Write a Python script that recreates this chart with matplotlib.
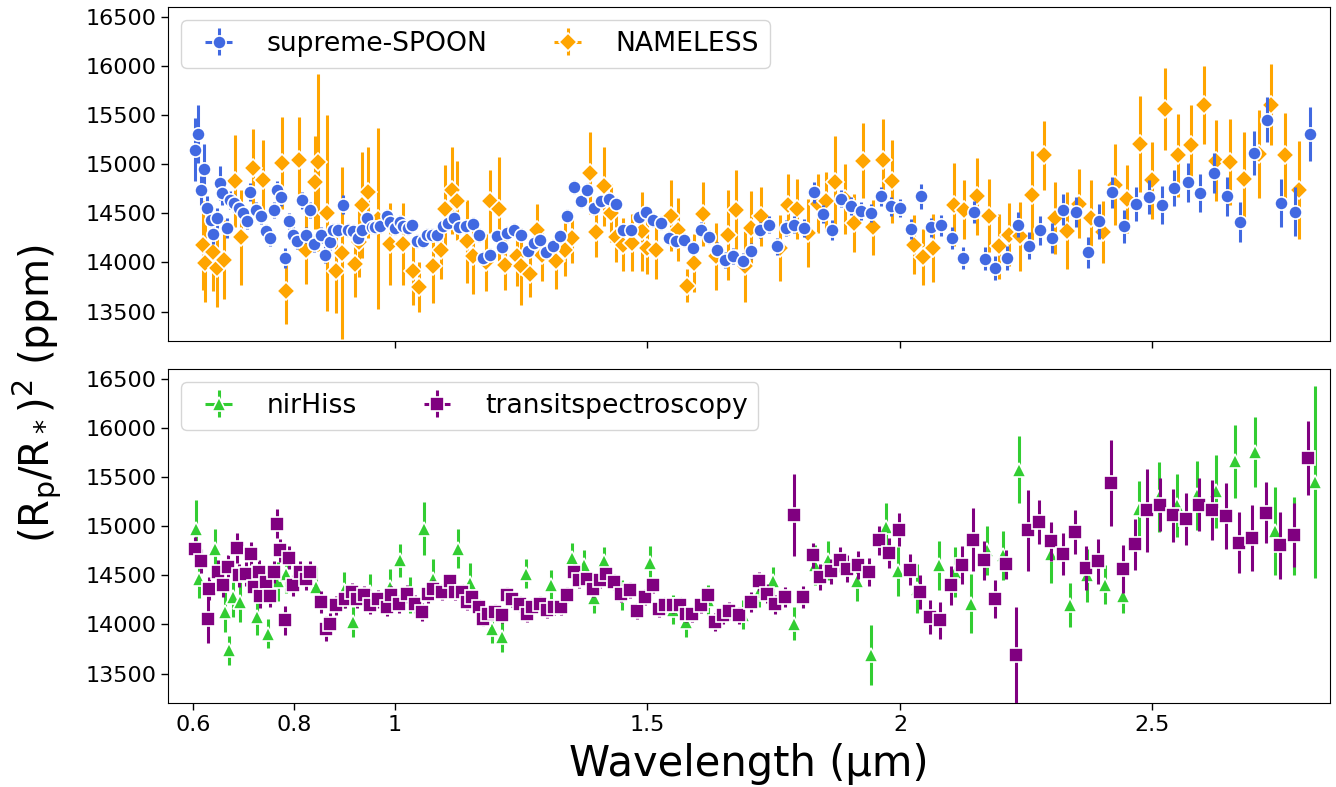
import matplotlib
matplotlib.use("Agg")
import matplotlib.pyplot as plt

# ---------------- data ----------------
spoon_wl = [0.603, 0.609, 0.616, 0.621, 0.628, 0.636, 0.639, 0.647, 0.654, 0.658, 0.667, 0.674, 0.682, 0.692,
            0.699, 0.707, 0.713, 0.725, 0.735, 0.744, 0.752, 0.760, 0.766, 0.775, 0.783, 0.790, 0.798, 0.805,
            0.815, 0.823, 0.831, 0.839, 0.854, 0.862, 0.872, 0.877, 0.887, 0.897, 0.906, 0.916, 0.927, 0.934,
            0.945, 0.954, 0.960, 0.970, 0.984, 0.990, 1.000, 1.009, 1.016, 1.025, 1.034, 1.043, 1.055, 1.063,
            1.073, 1.083, 1.095, 1.104, 1.116, 1.126, 1.141, 1.154, 1.166, 1.175, 1.189, 1.202, 1.212, 1.222,
            1.236, 1.250, 1.263, 1.275, 1.288, 1.300, 1.313, 1.326, 1.341, 1.354, 1.368, 1.381, 1.395, 1.407,
            1.424, 1.437, 1.452, 1.467, 1.483, 1.497, 1.510, 1.527, 1.542, 1.556, 1.573, 1.591, 1.606, 1.621,
            1.638, 1.654, 1.670, 1.689, 1.705, 1.722, 1.740, 1.757, 1.774, 1.791, 1.810, 1.829, 1.848, 1.866,
            1.884, 1.903, 1.922, 1.942, 1.962, 1.982, 2.001, 2.021, 2.041, 2.061, 2.081, 2.103, 2.125, 2.147,
            2.168, 2.189, 2.211, 2.233, 2.255, 2.278, 2.301, 2.323, 2.348, 2.372, 2.395, 2.419, 2.444, 2.468,
            2.494, 2.519, 2.543, 2.570, 2.595, 2.621, 2.648, 2.674, 2.701, 2.727, 2.755, 2.783, 2.811]
spoon_val = [15147, 15307, 14733, 14954, 14554, 14435, 14289, 14452, 14808, 14706, 14351, 14638, 14605, 14554,
             14503, 14425, 14716, 14530, 14469, 14316, 14249, 14530, 14740, 14666, 14045, 14418, 14282, 14214,
             14631, 14282, 14537, 14188, 14282, 14079, 14204, 14333, 14333, 14588, 14333, 14316, 14249, 14333,
             14452, 14357, 14357, 14367, 14476, 14408, 14350, 14408, 14374, 14350, 14377, 14221, 14221, 14282,
             14282, 14282, 14374, 14401, 14452, 14357, 14367, 14394, 14282, 14045, 14079, 14265, 14157, 14300,
             14333, 14282, 14113, 14198, 14231, 14106, 14164, 14265, 14476, 14764, 14628, 14740, 14554, 14621,
             14645, 14594, 14333, 14333, 14458, 14509, 14435, 14401, 14249, 14214, 14225, 14147, 14333, 14259,
             14130, 14028, 14062, 14018, 14113, 14333, 14384, 14164, 14350, 14384, 14350, 14713, 14493, 14333,
             14649, 14577, 14520, 14503, 14672, 14570, 14554, 14343, 14672, 14357, 14377, 14249, 14045, 14513,
             14038, 13944, 14045, 14384, 14170, 14326, 14249, 14537, 14513, 14102, 14418, 14713, 14367, 14594,
             14666, 14581, 14757, 14814, 14706, 14910, 14672, 14411, 15113, 15452, 14604, 14516, 15310]
spoon_err = [320, 300, 150, 250, 120, 110, 100, 100, 170, 120, 100, 90, 90, 80,
             80, 80, 90, 80, 80, 80, 80, 80, 90, 90, 100, 80, 80, 80,
             90, 80, 80, 80, 80, 90, 80, 70, 70, 100, 70, 70, 70, 70,
             70, 70, 70, 70, 70, 70, 70, 70, 70, 70, 70, 70, 70, 70,
             70, 70, 70, 70, 70, 70, 70, 70, 70, 70, 70, 70, 70, 70,
             70, 70, 70, 70, 70, 70, 70, 70, 70, 70, 70, 70, 70, 70,
             70, 70, 70, 70, 70, 70, 70, 70, 70, 70, 70, 75, 75, 75,
             75, 80, 80, 80, 80, 80, 85, 85, 85, 85, 90, 110, 90, 100,
             90, 90, 90, 95, 95, 95, 95, 100, 125, 100, 105, 110, 115, 115,
             120, 120, 125, 130, 135, 150, 150, 160, 150, 155, 175, 160, 170, 175,
             175, 195, 185, 200, 195, 205, 200, 205, 220, 230, 245, 250, 275]

nameless_wl = [0.619, 0.624, 0.639, 0.647, 0.661, 0.684, 0.695, 0.718, 0.738, 0.776, 0.785, 0.810, 0.823,
               0.841, 0.848, 0.866, 0.884, 0.896, 0.921, 0.929, 0.934, 0.947, 0.967, 0.990, 1.015, 1.036,
               1.048, 1.076, 1.091, 1.099, 1.113, 1.123, 1.142, 1.154, 1.180, 1.189, 1.205, 1.217, 1.242,
               1.250, 1.267, 1.282, 1.291, 1.318, 1.336, 1.350, 1.386, 1.399, 1.414, 1.427, 1.437, 1.452,
               1.470, 1.489, 1.499, 1.517, 1.546, 1.560, 1.578, 1.593, 1.609, 1.636, 1.659, 1.676, 1.693,
               1.705, 1.724, 1.762, 1.778, 1.797, 1.817, 1.838, 1.854, 1.871, 1.891, 1.909, 1.927, 1.947,
               1.967, 1.985, 2.027, 2.045, 2.066, 2.106, 2.126, 2.152, 2.176, 2.196, 2.215, 2.238, 2.262,
               2.285, 2.307, 2.331, 2.354, 2.378, 2.402, 2.426, 2.449, 2.475, 2.500, 2.525, 2.550, 2.576,
               2.602, 2.626, 2.654, 2.681, 2.711, 2.735, 2.763, 2.790]
nameless_val = [14174, 13994, 14106, 13944, 14028, 14832, 14255, 14961, 14842, 15012, 13713, 15045, 14130,
                14814, 15018, 14503, 13909, 14096, 13984, 14204, 14581, 14713, 14445, 14188, 14188, 13909,
                13750, 13960, 14130, 14544, 14733, 14628, 14214, 14062, 14000, 14621, 14544, 13977, 14062,
                13960, 13885, 14333, 14079, 14018, 14130, 14249, 14910, 14310, 14774, 14503, 14255, 14181,
                14198, 14316, 14147, 14123, 14476, 14333, 13764, 13994, 14493, 14062, 14282, 14537, 13960,
                14350, 14469, 14147, 14588, 14544, 14300, 14598, 14621, 14814, 14645, 14401, 15035, 14357,
                15045, 14825, 14181, 14055, 14147, 14588, 14537, 14672, 14476, 14164, 14282, 14265, 14682,
                15089, 14452, 14323, 14598, 14452, 14310, 14791, 14645, 15208, 14835, 15561, 15089, 15191,
                15602, 15035, 15022, 14852, 15103, 15605, 15089, 14740]
nameless_err = [450, 400, 400, 400, 400, 470, 480, 400, 400, 470, 340, 440, 350,
                470, 900, 1000, 420, 880, 340, 350, 540, 460, 920, 420, 420, 340,
                250, 370, 300, 450, 440, 400, 420, 380, 290, 320, 530, 260, 300,
                390, 240, 260, 270, 290, 270, 250, 420, 250, 400, 300, 250, 270,
                290, 400, 270, 290, 360, 320, 170, 300, 330, 340, 460, 400, 360,
                380, 300, 340, 310, 310, 350, 300, 300, 470, 360, 300, 380, 280,
                410, 420, 300, 290, 350, 420, 300, 390, 370, 330, 320, 350, 450,
                350, 370, 390, 350, 390, 320, 410, 350, 490, 390, 420, 420, 410,
                400, 410, 440, 480, 450, 410, 430, 500]

nirhiss_wl = [0.605, 0.611, 0.644, 0.664, 0.672, 0.680, 0.694, 0.726, 0.748, 0.768, 0.785, 0.844, 0.900,
              0.916, 0.950, 0.990, 1.009, 1.030, 1.058, 1.076, 1.125, 1.148, 1.192, 1.212, 1.260, 1.309,
              1.351, 1.374, 1.394, 1.414, 1.450, 1.505, 1.550, 1.576, 1.620, 1.690, 1.720, 1.748, 1.790,
              1.831, 1.858, 1.914, 1.942, 1.972, 1.997, 2.033, 2.077, 2.109, 2.140, 2.172, 2.204, 2.235,
              2.300, 2.337, 2.371, 2.405, 2.442, 2.474, 2.513, 2.548, 2.588, 2.626, 2.664, 2.702, 2.742,
              2.780, 2.821]
nirhiss_val = [14974, 14465, 14770, 14126, 13736, 14279, 14228, 14075, 13906, 14438, 14516, 14381, 14350,
               14024, 14330, 14380, 14652, 14300, 14974, 14465, 14770, 14425, 13957, 13872, 14516, 14404,
               14675, 14604, 14269, 14641, 14300, 14628, 14150, 14024, 14250, 14100, 14330, 14438, 14008,
               14604, 14652, 14438, 13692, 14991, 14540, 14364, 14604, 14533, 14211, 14753, 14703, 15575,
               14720, 14194, 14499, 14404, 14286, 15177, 15296, 15211, 15313, 15354, 15659, 15754, 14949,
               14900, 15449]
nirhiss_err = [290, 200, 200, 200, 150, 200, 200, 180, 150, 200, 200, 200, 180,
               150, 180, 180, 170, 180, 270, 200, 200, 200, 150, 150, 150, 150,
               150, 150, 150, 150, 150, 170, 150, 150, 150, 150, 150, 150, 170,
               200, 200, 200, 305, 250, 250, 250, 250, 250, 300, 250, 250, 340,
               295, 225, 270, 200, 170, 280, 360, 320, 355, 370, 370, 355, 450,
               400, 975]

ts_wl = [0.603, 0.616, 0.629, 0.632, 0.649, 0.659, 0.669, 0.687, 0.692, 0.704, 0.715, 0.720, 0.730, 0.732,
         0.745, 0.752, 0.760, 0.767, 0.773, 0.783, 0.790, 0.798, 0.811, 0.823, 0.831, 0.854, 0.864, 0.872,
         0.884, 0.901, 0.914, 0.924, 0.938, 0.950, 0.967, 0.984, 0.993, 1.007, 1.023, 1.040, 1.053, 1.066,
         1.076, 1.093, 1.108, 1.119, 1.133, 1.142, 1.152, 1.166, 1.175, 1.185, 1.199, 1.212, 1.222, 1.232,
         1.248, 1.262, 1.272, 1.287, 1.301, 1.315, 1.328, 1.340, 1.354, 1.364, 1.381, 1.393, 1.406, 1.417,
         1.433, 1.448, 1.466, 1.480, 1.495, 1.510, 1.523, 1.534, 1.550, 1.565, 1.576, 1.589, 1.605, 1.619,
         1.634, 1.649, 1.662, 1.682, 1.704, 1.721, 1.737, 1.753, 1.773, 1.790, 1.808, 1.827, 1.841, 1.863,
         1.881, 1.896, 1.917, 1.939, 1.959, 1.979, 1.999, 2.019, 2.040, 2.060, 2.079, 2.101, 2.123, 2.144,
         2.166, 2.188, 2.209, 2.230, 2.254, 2.276, 2.299, 2.323, 2.347, 2.369, 2.393, 2.417, 2.442, 2.466,
         2.490, 2.515, 2.541, 2.566, 2.592, 2.618, 2.645, 2.671, 2.697, 2.725, 2.752, 2.780, 2.808]
ts_val = [14763, 14645, 14059, 14364, 14533, 14397, 14584, 14777, 14499, 14516, 14720, 14381, 14533, 14289,
          14431, 14289, 14533, 15025, 14753, 14041, 14679, 14397, 14533, 14465, 14533, 14228, 13957, 14008,
          14194, 14262, 14330, 14262, 14303, 14194, 14262, 14177, 14296, 14211, 14313, 14211, 14126, 14313,
          14364, 14330, 14438, 14330, 14330, 14228, 14279, 14177, 14059, 14109, 14126, 14092, 14296, 14262,
          14211, 14109, 14177, 14211, 14143, 14177, 14177, 14296, 14533, 14448, 14465, 14364, 14448, 14516,
          14431, 14313, 14347, 14133, 14279, 14397, 14160, 14201, 14194, 14201, 14109, 14109, 14201, 14303,
          14024, 14092, 14136, 14092, 14228, 14438, 14313, 14204, 14279, 15116, 14279, 14703, 14482, 14540,
          14659, 14567, 14604, 14533, 14855, 14727, 14964, 14557, 14330, 14075, 14041, 14397, 14604, 14862,
          14652, 14262, 14611, 13685, 14957, 15042, 14845, 14713, 14940, 14574, 14641, 15442, 14560, 14814,
          15160, 15218, 15109, 15069, 15218, 15160, 15103, 14832, 14883, 15137, 14804, 14913, 15693]
ts_err = [130, 120, 250, 120, 120, 120, 120, 150, 120, 120, 120, 120, 120, 120,
          110, 110, 110, 150, 120, 150, 120, 110, 110, 110, 110, 110, 130, 110,
          100, 100, 90, 90, 90, 90, 90, 90, 90, 90, 90, 90, 90, 90,
          90, 80, 80, 80, 80, 80, 80, 80, 80, 80, 80, 80, 80, 80,
          80, 80, 80, 80, 80, 80, 80, 80, 80, 80, 80, 80, 80, 80,
          80, 80, 80, 80, 80, 80, 80, 80, 80, 80, 80, 80, 80, 80,
          90, 90, 90, 90, 100, 100, 100, 100, 100, 420, 110, 130, 130, 130,
          130, 140, 140, 140, 150, 150, 170, 160, 170, 175, 185, 195, 195, 320,
          195, 195, 150, 490, 410, 220, 195, 215, 220, 225, 225, 440, 245, 260,
          420, 270, 265, 265, 270, 305, 340, 310, 335, 310, 345, 325, 380]

xticks = [0.6, 0.8, 1, 1.5, 2, 2.5]
xticklabels = ["0.6", "0.8", "1", "1.5", "2", "2.5"]
yticks = [13500, 14000, 14500, 15000, 15500, 16000, 16500]

# ---------------- figure ----------------
W, H = 1336, 787
fig = plt.figure(figsize=(W / 100, H / 100), dpi=100)
ax1 = fig.add_axes([168 / W, 1 - 341 / H, 1162 / W, 334 / H])
ax2 = fig.add_axes([168 / W, 1 - 703 / H, 1162 / W, 334 / H])

eb_kw = dict(ls="none", elinewidth=2.2, mec="white", mew=1.2, xerr=0.003)

ax1.errorbar(spoon_wl, spoon_val, yerr=spoon_err, fmt="o", color="royalblue", ms=9.5,
             label="supreme-SPOON", zorder=4, **eb_kw)
ax1.errorbar(nameless_wl, nameless_val, yerr=nameless_err, fmt="D", color="orange", ms=9.5,
             label="NAMELESS", zorder=3, **eb_kw)

ax2.errorbar(nirhiss_wl, nirhiss_val, yerr=nirhiss_err, fmt="^", color="limegreen", ms=10,
             label="nirHiss", zorder=3, **eb_kw)
ax2.errorbar(ts_wl, ts_val, yerr=ts_err, fmt="s", color="purple", ms=9.5,
             label="transitspectroscopy", zorder=4, **eb_kw)

for ax in (ax1, ax2):
    ax.set_xlim(0.5505, 2.8515)
    ax.set_ylim(13200, 16600)
    ax.set_yticks(yticks)
    ax.tick_params(axis="both", labelsize=16, length=5, width=1)
    ax.legend(loc="upper left", ncol=2, fontsize=19.2)

ax1.set_xticks([1, 1.5, 2, 2.5])
ax1.tick_params(axis="x", labelbottom=False)
ax2.set_xticks(xticks)
ax2.set_xticklabels(xticklabels)
ax2.set_xlabel("Wavelength (\u00b5m)", fontsize=30, labelpad=6)

fig.text(0.008, 0.5, r"(R$_\mathrm{p}$/R$_*$)$^2$ (ppm)", rotation=90, fontsize=29,
         ha="left", va="center")

fig.savefig("out.png", dpi=100)
